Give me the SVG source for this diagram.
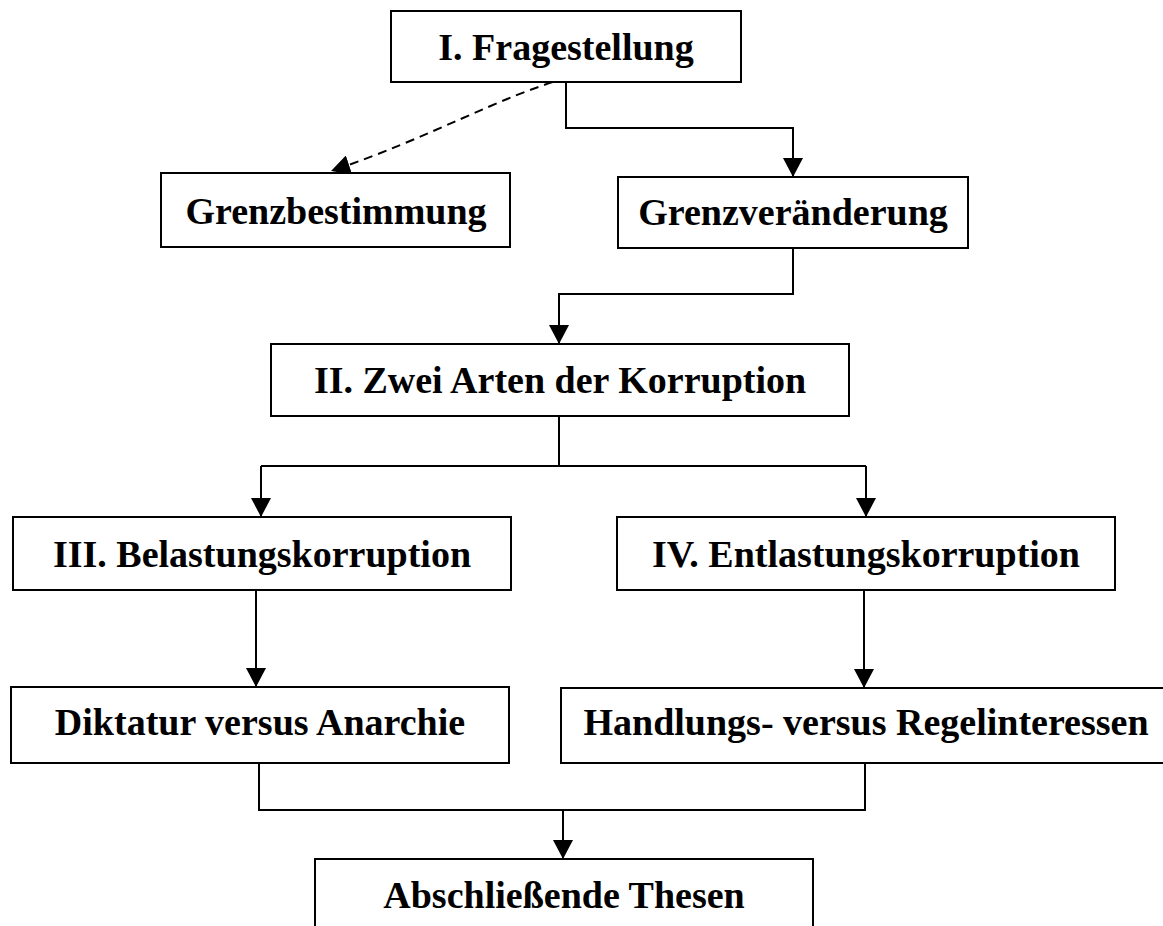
<svg xmlns="http://www.w3.org/2000/svg" width="1163" height="926" viewBox="0 0 1163 926">
<defs>
<marker id="arr" markerUnits="userSpaceOnUse" markerWidth="20" markerHeight="20" viewBox="0 0 20 20" refX="19" refY="10" orient="auto">
<path d="M0,0 L19,10 L0,20 Z" fill="#000"/>
</marker>
<style>
.box{fill:#fff;stroke:#000;stroke-width:2}
.lbl{font-family:"Liberation Serif","Times New Roman",serif;font-weight:bold;font-size:38px;fill:#000;text-anchor:middle}
.ln{fill:none;stroke:#000;stroke-width:2}
.dash{fill:none;stroke:#000;stroke-width:2;stroke-dasharray:9,6}
</style>
</defs>
<rect width="1163" height="926" fill="#fff"/>
<g id="connectors">
<path class="dash" d="M567,78 C500,96 430,138 331,171" marker-end="url(#arr)"/>
<path class="ln" d="M566,82 V128 H793 V177" marker-end="url(#arr)"/>
<path class="ln" d="M793,248 V294 H559 V344" marker-end="url(#arr)"/>
<path class="ln" d="M559,416 V466"/>
<path class="ln" d="M261,466 H866"/>
<path class="ln" d="M261,466 V517" marker-end="url(#arr)"/>
<path class="ln" d="M866,466 V517" marker-end="url(#arr)"/>
<path class="ln" d="M256,588 V687" marker-end="url(#arr)"/>
<path class="ln" d="M864,588 V688" marker-end="url(#arr)"/>
<path class="ln" d="M259,762 V810 H865 V762"/>
<path class="ln" d="M563,810 V859" marker-end="url(#arr)"/>
</g>
<g id="n1"><rect class="box" x="391" y="11" width="350" height="71"/><text class="lbl" x="566" y="60">I. Fragestellung</text></g>
<g id="n2"><rect class="box" x="161" y="173" width="349" height="74"/><text class="lbl" x="336" y="224">Grenzbestimmung</text></g>
<g id="n3"><rect class="box" x="618" y="177" width="350" height="71"/><text class="lbl" x="793" y="225">Grenzveränderung</text></g>
<g id="n4"><rect class="box" x="271" y="344" width="578" height="72"/><text class="lbl" x="560" y="393">II. Zwei Arten der Korruption</text></g>
<g id="n5"><rect class="box" x="13" y="517" width="498" height="73"/><text class="lbl" x="262" y="567">III. Belastungskorruption</text></g>
<g id="n6"><rect class="box" x="617" y="517" width="498" height="73"/><text class="lbl" x="866" y="567">IV. Entlastungskorruption</text></g>
<g id="n7"><rect class="box" x="11" y="687" width="498" height="76"/><text class="lbl" x="260" y="735">Diktatur versus Anarchie</text></g>
<g id="n8"><rect class="box" x="561" y="688" width="620" height="75"/><text class="lbl" x="866" y="735">Handlungs- versus Regelinteressen</text></g>
<g id="n9"><rect class="box" x="315" y="859" width="498" height="90"/><text class="lbl" x="564" y="908">Abschließende Thesen</text></g>
</svg>
